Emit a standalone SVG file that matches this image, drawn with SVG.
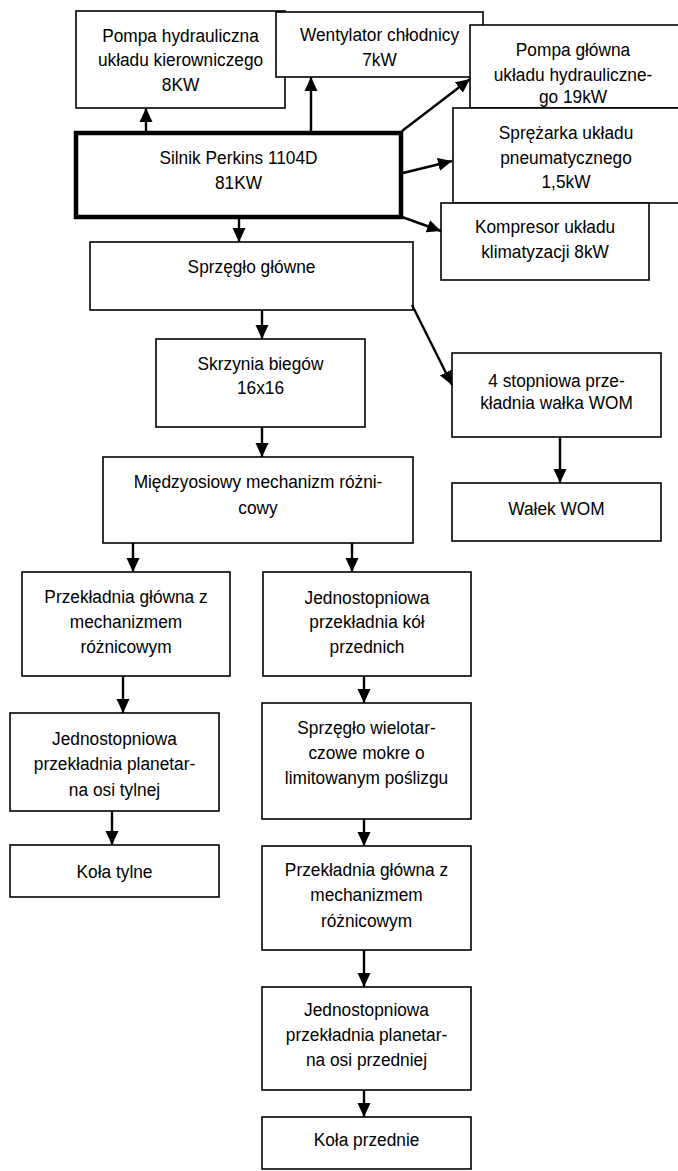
<svg xmlns="http://www.w3.org/2000/svg" width="678" height="1171" viewBox="0 0 678 1171">
<style>
.box{fill:#fff;stroke:#000;stroke-width:1.6}
.thick{fill:#fff;stroke:#000;stroke-width:4.5}
.t{font-family:"Liberation Sans",Arial,sans-serif;font-size:19px;fill:#000;text-anchor:middle}
.c{stroke:#000;stroke-width:2.4;fill:none;marker-end:url(#ah)}
</style>
<defs>
<marker id="ah" viewBox="0 0 14 14" markerWidth="14" markerHeight="14" refX="14" refY="7" orient="auto" markerUnits="userSpaceOnUse">
<path d="M0,0.5 L14,7 L0,13.5 z" fill="#000"/>
</marker>
</defs>
<rect width="678" height="1171" fill="#fff"/>
<g id="n_pompa_hydr"><rect class="box" x="76" y="11" width="209" height="97"/>
<g transform="translate(180.5,0) scale(0.91,1)"><text class="t" x="0" y="42">Pompa hydrauliczna</text><text class="t" x="0" y="66">układu kierowniczego</text><text class="t" x="0" y="91">8KW</text></g></g>
<g id="n_wentylator"><rect class="box" x="276" y="12" width="207" height="65"/>
<g transform="translate(379.5,0) scale(0.91,1)"><text class="t" x="0" y="41">Wentylator chłodnicy</text><text class="t" x="0" y="66">7kW</text></g></g>
<g id="n_pompa_glowna"><rect class="box" x="470" y="25" width="230" height="83"/>
<g transform="translate(573,0) scale(0.91,1)"><text class="t" x="0" y="56">Pompa główna</text><text class="t" x="0" y="81">układu hydrauliczne-</text><text class="t" x="0" y="103">go 19kW</text></g></g>
<g id="n_sprezarka"><rect class="box" x="453" y="108" width="240" height="95"/>
<g transform="translate(566,0) scale(0.91,1)"><text class="t" x="0" y="139">Sprężarka układu</text><text class="t" x="0" y="164">pneumatycznego</text><text class="t" x="0" y="188">1,5kW</text></g></g>
<g id="n_kompresor"><rect class="box" x="441" y="203" width="208" height="77"/>
<g transform="translate(545,0) scale(0.91,1)"><text class="t" x="0" y="233">Kompresor układu</text><text class="t" x="0" y="258">klimatyzacji 8kW</text></g></g>
<g id="n_silnik"><rect class="thick" x="76" y="133" width="325" height="84"/>
<g transform="translate(238.5,0) scale(0.91,1)"><text class="t" x="0" y="164">Silnik Perkins 1104D</text><text class="t" x="0" y="189">81KW</text></g></g>
<g id="n_sprzeglo"><rect class="box" x="90" y="242" width="323" height="68"/>
<g transform="translate(251.5,0) scale(0.91,1)"><text class="t" x="0" y="273">Sprzęgło główne</text></g></g>
<g id="n_skrzynia"><rect class="box" x="156" y="339" width="209" height="88"/>
<g transform="translate(260.5,0) scale(0.91,1)"><text class="t" x="0" y="370">Skrzynia biegów</text><text class="t" x="0" y="394">16x16</text></g></g>
<g id="n_4stop"><rect class="box" x="452" y="353" width="209" height="84"/>
<g transform="translate(556.5,0) scale(0.91,1)"><text class="t" x="0" y="387">4 stopniowa prze-</text><text class="t" x="0" y="409">kładnia wałka WOM</text></g></g>
<g id="n_walek"><rect class="box" x="452" y="483" width="209" height="58"/>
<g transform="translate(556.5,0) scale(0.91,1)"><text class="t" x="0" y="515">Wałek WOM</text></g></g>
<g id="n_miedzy"><rect class="box" x="103" y="457" width="310" height="86"/>
<g transform="translate(258,0) scale(0.91,1)"><text class="t" x="0" y="488">Międzyosiowy mechanizm różni-</text><text class="t" x="0" y="514">cowy</text></g></g>
<g id="n_przekl_l"><rect class="box" x="22" y="572" width="208" height="104"/>
<g transform="translate(126,0) scale(0.91,1)"><text class="t" x="0" y="603">Przekładnia główna z</text><text class="t" x="0" y="628">mechanizmem</text><text class="t" x="0" y="653">różnicowym</text></g></g>
<g id="n_jedn_kol"><rect class="box" x="263" y="572" width="208" height="104"/>
<g transform="translate(367,0) scale(0.91,1)"><text class="t" x="0" y="604">Jednostopniowa</text><text class="t" x="0" y="628">przekładnia kół</text><text class="t" x="0" y="653">przednich</text></g></g>
<g id="n_jedn_l"><rect class="box" x="10" y="713" width="209" height="98"/>
<g transform="translate(114.5,0) scale(0.91,1)"><text class="t" x="0" y="745">Jednostopniowa</text><text class="t" x="0" y="770">przekładnia planetar-</text><text class="t" x="0" y="796">na osi tylnej</text></g></g>
<g id="n_kola_t"><rect class="box" x="10" y="845" width="209" height="52"/>
<g transform="translate(114.5,0) scale(0.91,1)"><text class="t" x="0" y="878">Koła tylne</text></g></g>
<g id="n_sprz_wiel"><rect class="box" x="262" y="703" width="209" height="116"/>
<g transform="translate(366.5,0) scale(0.91,1)"><text class="t" x="0" y="734">Sprzęgło wielotar-</text><text class="t" x="0" y="759">czowe mokre o</text><text class="t" x="0" y="784">limitowanym poślizgu</text></g></g>
<g id="n_przekl_r"><rect class="box" x="262" y="846" width="209" height="104"/>
<g transform="translate(366.5,0) scale(0.91,1)"><text class="t" x="0" y="876">Przekładnia główna z</text><text class="t" x="0" y="901">mechanizmem</text><text class="t" x="0" y="927">różnicowym</text></g></g>
<g id="n_jedn_r"><rect class="box" x="262" y="987" width="209" height="103"/>
<g transform="translate(366.5,0) scale(0.91,1)"><text class="t" x="0" y="1016">Jednostopniowa</text><text class="t" x="0" y="1041">przekładnia planetar-</text><text class="t" x="0" y="1066">na osi przedniej</text></g></g>
<g id="n_kola_p"><rect class="box" x="262" y="1117" width="209" height="52"/>
<g transform="translate(366.5,0) scale(0.91,1)"><text class="t" x="0" y="1146">Koła przednie</text></g></g>
<g id="connectors">
<line class="c" x1="146" y1="131" x2="146" y2="108"/>
<line class="c" x1="311" y1="131" x2="311" y2="77"/>
<line class="c" x1="402" y1="131" x2="470" y2="79"/>
<line class="c" x1="403" y1="173" x2="452" y2="161"/>
<line class="c" x1="402" y1="217" x2="441" y2="231"/>
<line class="c" x1="239" y1="219" x2="239" y2="242"/>
<line class="c" x1="262" y1="310" x2="262" y2="339"/>
<line class="c" x1="412" y1="305" x2="452" y2="385"/>
<line class="c" x1="262" y1="427" x2="262" y2="457"/>
<line class="c" x1="560" y1="437" x2="560" y2="483"/>
<line class="c" x1="133" y1="543" x2="133" y2="572"/>
<line class="c" x1="352" y1="543" x2="352" y2="572"/>
<line class="c" x1="123" y1="676" x2="123" y2="713"/>
<line class="c" x1="112" y1="811" x2="112" y2="845"/>
<line class="c" x1="364" y1="676" x2="364" y2="703"/>
<line class="c" x1="364" y1="819" x2="364" y2="846"/>
<line class="c" x1="364" y1="950" x2="364" y2="987"/>
<line class="c" x1="364" y1="1090" x2="364" y2="1117"/>
</g>
</svg>
